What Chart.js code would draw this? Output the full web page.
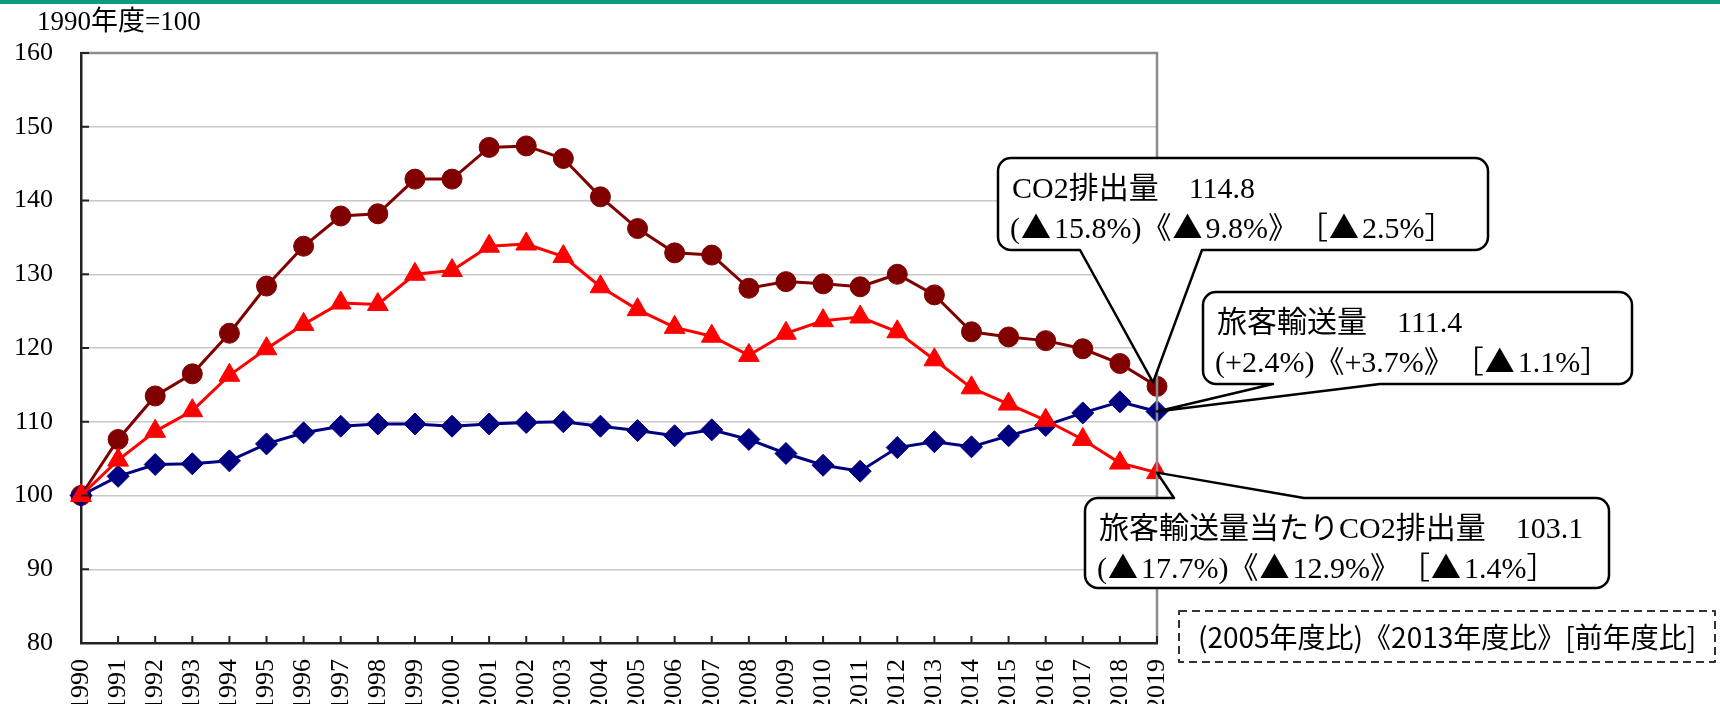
<!DOCTYPE html>
<html>
<head>
<meta charset="utf-8">
<script src="https://cdn.jsdelivr.net/npm/chart.js@4"></script>
<style>
html, body { margin: 0; padding: 0; background: #fff; }
canvas { display: block; }
</style>
</head>
<body>
<canvas id="chart" width="1720" height="704"></canvas>
<script>
// tick labels (fiscal years) and y ticks
const years = ["1990", "1991", "1992", "1993", "1994", "1995", "1996", "1997", "1998", "1999",
  "2000", "2001", "2002", "2003", "2004", "2005", "2006", "2007", "2008", "2009",
  "2010", "2011", "2012", "2013", "2014", "2015", "2016", "2017", "2018", "2019"];
const yTicks = [80, 90, 100, 110, 120, 130, 140, 150, 160];

// series, 1990 = 100
const co2Emissions = [100, 107.6, 113.5, 116.5, 122.0, 128.4, 133.8, 137.9, 138.2, 142.9,
  142.9, 147.2, 147.4, 145.7, 140.5, 136.2, 132.9, 132.6, 128.1, 129.0,
  128.7, 128.3, 130.0, 127.2, 122.2, 121.5, 121.0, 119.9, 117.9, 114.8];
const passengerVolume = [100, 102.6, 104.2, 104.3, 104.7, 107.0, 108.5, 109.4, 109.7, 109.7,
  109.4, 109.7, 109.9, 110.0, 109.4, 108.8, 108.1, 108.9, 107.6, 105.7,
  104.1, 103.3, 106.5, 107.3, 106.6, 108.1, 109.5, 111.2, 112.7, 111.4];
const co2PerPassenger = [100, 104.8, 108.7, 111.5, 116.3, 119.9, 123.2, 126.1, 125.9, 130.0,
  130.5, 133.8, 134.1, 132.4, 128.3, 125.2, 122.8, 121.6, 119.0, 122.0,
  123.7, 124.2, 122.2, 118.4, 114.6, 112.4, 110.2, 107.6, 104.4, 103.1];

// callout texts
const calloutText = [
  ["CO2排出量　114.8", "(▲15.8%)《▲9.8%》　［▲2.5%］"],
  ["旅客輸送量　111.4", "(+2.4%)《+3.7%》　［▲1.1%］"],
  ["旅客輸送量当たりCO2排出量　103.1", "(▲17.7%)《▲12.9%》　［▲1.4%］"]
];
const unitLabel = "1990年度=100";
const noteText = "(2005年度比)《2013年度比》[前年度比]";

const SERIF = "'Liberation Serif', 'Times New Roman', 'Noto Sans CJK JP', serif";
const SANS = "'Noto Sans CJK JP', 'Noto Sans', sans-serif";

// the ▲ in the serif font is tiny, so draw it with the CJK font
function fillRich(ctx, text, x, y, size) {
  const parts = text.split("▲");
  parts.forEach((p, i) => {
    if (i > 0) {
      ctx.font = size + "px 'Noto Sans CJK JP'";
      ctx.fillText("▲", x + 1, y);
      x += ctx.measureText("▲").width + 4;
    }
    ctx.font = size + "px " + SERIF;
    ctx.fillText(p, x, y);
    x += ctx.measureText(p).width;
  });
}

function calloutPath(ctx, x, y, w, h, r, side, b1, b2, tx, ty) {
  ctx.beginPath();
  ctx.moveTo(x + r, y);
  if (side === "top") { ctx.lineTo(b1, y); ctx.lineTo(tx, ty); ctx.lineTo(b2, y); }
  ctx.lineTo(x + w - r, y);
  ctx.arcTo(x + w, y, x + w, y + r, r);
  ctx.lineTo(x + w, y + h - r);
  ctx.arcTo(x + w, y + h, x + w - r, y + h, r);
  if (side === "bottom") { ctx.lineTo(b2, y + h); ctx.lineTo(tx, ty); ctx.lineTo(b1, y + h); }
  ctx.lineTo(x + r, y + h);
  ctx.arcTo(x, y + h, x, y + h - r, r);
  ctx.lineTo(x, y + r);
  ctx.arcTo(x, y, x + r, y, r);
  ctx.closePath();
}

const decor = {
  id: "decor",
  afterDraw(chart) {
    const ctx = chart.ctx;
    const area = chart.chartArea;
    const xs = chart.scales.x, ys = chart.scales.y;
    ctx.save();

    // teal band on top
    ctx.fillStyle = "#0b9b83";
    ctx.fillRect(0, 0, chart.width, 4);

    // unit label
    ctx.fillStyle = "#000";
    ctx.font = "27px " + SERIF;
    ctx.textBaseline = "alphabetic";
    ctx.textAlign = "left";
    ctx.fillText(unitLabel, 37, 30);

    // top / right frame
    ctx.strokeStyle = "#8c8c8c";
    ctx.lineWidth = 2.5;
    ctx.beginPath();
    ctx.moveTo(area.left, area.top);
    ctx.lineTo(area.right, area.top);
    ctx.lineTo(area.right, area.bottom);
    ctx.stroke();

    // inner tick marks
    ctx.strokeStyle = "#222";
    ctx.lineWidth = 2;
    ctx.beginPath();
    yTicks.forEach(v => {
      const py = ys.getPixelForValue(v);
      ctx.moveTo(area.left, py);
      ctx.lineTo(area.left + 8, py);
    });
    years.forEach((y, i) => {
      const px = xs.getPixelForValue(i);
      ctx.moveTo(px, area.bottom);
      ctx.lineTo(px, area.bottom - 7);
    });
    ctx.stroke();

    // callouts
    const last = years.length - 1;
    const tip = (arr) => [xs.getPixelForValue(last), ys.getPixelForValue(arr[last])];
    const t1 = tip(co2Emissions), t2 = tip(passengerVolume), t3 = tip(co2PerPassenger);
    const boxes = [
      { x: 998, y: 158, w: 490, h: 92, side: "bottom", b1: 1080, b2: 1202, tx: t1[0] - 4, ty: t1[1] - 4 },
      { x: 1203, y: 292, w: 429, h: 92, side: "bottom", b1: 1273, b2: 1380, tx: t2[0], ty: t2[1] },
      { x: 1085, y: 498, w: 524, h: 90, side: "top", b1: 1174, b2: 1304, tx: t3[0], ty: t3[1] }
    ];
    boxes.forEach((b, i) => {
      calloutPath(ctx, b.x, b.y, b.w, b.h, 13, b.side, b.b1, b.b2, b.tx, b.ty);
      ctx.fillStyle = "#fff";
      ctx.fill();
      ctx.strokeStyle = "#000";
      ctx.lineWidth = 2.5;
      ctx.lineJoin = "round";
      ctx.stroke();
      ctx.fillStyle = "#000";
      ctx.textAlign = "left";
      ctx.textBaseline = "alphabetic";
      fillRich(ctx, calloutText[i][0], b.x + 14, b.y + 40, 30);
      fillRich(ctx, calloutText[i][1], b.x + 12, b.y + 80, 30);
    });

    // dashed note box
    ctx.setLineDash([8, 5]);
    ctx.strokeStyle = "#333";
    ctx.lineWidth = 2;
    ctx.strokeRect(1179, 611, 536, 51);
    ctx.setLineDash([]);
    ctx.fillStyle = "#000";
    ctx.font = "28px " + SANS;
    ctx.textBaseline = "middle";
    ctx.fillText(noteText, 1198, 637);

    ctx.restore();
  }
};

new Chart(document.getElementById("chart"), {
  type: "line",
  data: {
    labels: years,
    datasets: [
      {
        label: "CO2排出量", data: co2Emissions, order: 3,
        borderColor: "#800000", backgroundColor: "#800000",
        pointBackgroundColor: "#800000", pointBorderColor: "#800000",
        pointStyle: "circle", pointRadius: 10
      },
      {
        label: "旅客輸送量", data: passengerVolume, order: 2,
        borderColor: "#000080", backgroundColor: "#000080",
        pointBackgroundColor: "#000080", pointBorderColor: "#000080",
        pointStyle: "rectRot", pointRadius: 11
      },
      {
        label: "旅客輸送量当たりCO2排出量", data: co2PerPassenger, order: 1,
        borderColor: "#ff0000", backgroundColor: "#ff0000",
        pointBackgroundColor: "#ff0000", pointBorderColor: "#ff0000",
        pointStyle: "triangle", pointRadius: 12
      }
    ]
  },
  options: {
    responsive: false,
    animation: false,
    devicePixelRatio: 1,
    layout: { padding: { left: 0, right: 563, top: 53, bottom: 0 } },
    elements: {
      line: { borderWidth: 3, tension: 0, fill: false },
      point: { borderWidth: 1 }
    },
    datasets: { line: { clip: false } },
    plugins: { legend: { display: false }, tooltip: { enabled: false } },
    scales: {
      x: {
        grid: { display: false, drawTicks: false },
        border: { color: "#222", width: 2.5 },
        ticks: {
          autoSkip: false, minRotation: 90, maxRotation: 90, padding: 16,
          color: "#000", font: { family: SERIF, size: 26 }
        },
        afterFit(s) { s.height = 61; }
      },
      y: {
        min: 80, max: 160,
        grid: { color: "#c8c8c8", lineWidth: 1.5, drawTicks: false },
        border: { color: "#222", width: 2.5 },
        ticks: { padding: 28, color: "#000", font: { family: SERIF, size: 26 } },
        afterBuildTicks(s) { s.ticks = yTicks.map(v => ({ value: v })); },
        afterFit(s) { s.width = 81; }
      }
    }
  },
  plugins: [decor]
});
</script>
</body>
</html>
